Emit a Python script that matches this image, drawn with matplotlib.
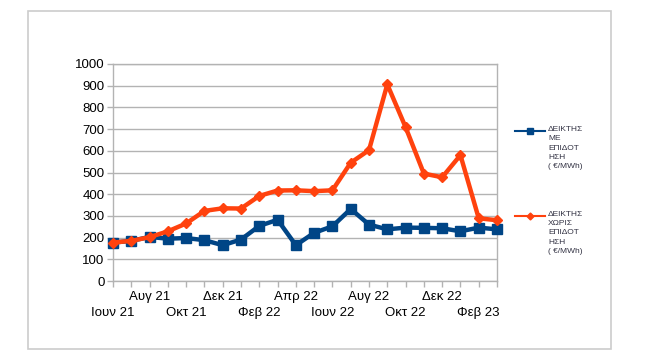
import numpy as np
import matplotlib.pyplot as plt
from matplotlib.lines import Line2D
from matplotlib.patches import Rectangle

plt.rcParams['font.family'] = ['Liberation Sans', 'DejaVu Sans']

months = ['Ιουν 21', 'Ιουλ 21', 'Αυγ 21', 'Σεπ 21', 'Οκτ 21', 'Νοε 21', 'Δεκ 21',
          'Ιαν 22', 'Φεβ 22', 'Μαρ 22', 'Απρ 22', 'Μαϊ 22', 'Ιουν 22', 'Ιουλ 22',
          'Αυγ 22', 'Σεπ 22', 'Οκτ 22', 'Νοε 22', 'Δεκ 22', 'Ιαν 23', 'Φεβ 23', 'Μαρ 23']
with_subsidy = [177, 185, 203, 195, 198, 188, 165, 191, 254, 282, 165, 222,
                252, 332, 260, 238, 246, 245, 243, 229, 246, 238]
without_subsidy = [177, 185, 202, 229, 265, 323, 335, 334, 392, 417, 418, 414,
                   418, 545, 603, 906, 709, 495, 478, 580, 289, 280]
label_blue = 'ΔΕΙΚΤΗΣ\nΜΕ\nΕΠΙΔΟΤ\nΗΣΗ\n( €/MWh)'
label_orange = 'ΔΕΙΚΤΗΣ\nΧΩΡΙΣ\nΕΠΙΔΟΤ\nΗΣΗ\n( €/MWh)'

blue = '#004586'
orange = '#ff420e'
grid_c = '#b3b3b3'

fig = plt.figure(figsize=(6.56, 3.58), dpi=100)
fig.patch.set_facecolor('white')
fig.add_artist(Rectangle((28 / 656, 1 - 349 / 358), 583 / 656, 338 / 358,
                         transform=fig.transFigure, fill=False,
                         edgecolor='#cccccc', linewidth=1.2))

ax = fig.add_axes([113 / 656, 1 - 281 / 358, 384 / 656, 217 / 358])
x = np.arange(len(months))
ax.plot(x, with_subsidy, color=blue, lw=3.2, marker='s', ms=7.5, clip_on=False, zorder=3)
ax.plot(x, without_subsidy, color=orange, lw=3.2, marker='D', ms=5, clip_on=False, zorder=4)

ax.set_xlim(0, len(months) - 1)
ax.set_ylim(0, 1000)
ax.set_yticks(range(0, 1001, 100))
ax.yaxis.grid(True, color=grid_c, lw=1)
ax.set_axisbelow(True)

# every month gets a tick; labels every second month, staggered in two rows
ax.set_xticks(x)
ax.set_xticklabels([m if i % 4 == 2 else '' for i, m in enumerate(months)])
ax.tick_params(axis='both', labelsize=9.5, colors=grid_c, labelcolor='black',
               length=4, width=1, direction='out')
ax.tick_params(axis='x', pad=3)
ax.tick_params(axis='y', pad=2)
for s in ax.spines.values():
    s.set_color(grid_c)
    s.set_linewidth(1)

low = ax.secondary_xaxis('bottom')
low.set_xticks(x[::4])
low.set_xticklabels(months[::4])
low.tick_params(axis='x', length=0, pad=19, labelsize=9.5, labelcolor='black')
low.spines['bottom'].set_visible(False)

# legend drawn at the right, handle level with the first text line
for ypix, col, mk, ms, lab in [(131, blue, 's', 5, label_blue),
                               (216, orange, 'D', 3.5, label_orange)]:
    yf = 1 - ypix / 358
    fig.add_artist(Line2D([515 / 656, 545 / 656], [yf, yf], transform=fig.transFigure,
                          color=col, lw=1.5))
    fig.add_artist(Line2D([530 / 656], [yf], transform=fig.transFigure,
                          color=col, marker=mk, ms=ms))
    fig.text(548 / 656, 1 - (ypix - 5) / 358, lab, fontsize=6, color='#333344',
             va='top', ha='left', linespacing=1.45)

fig.savefig('out.png', dpi=100)
